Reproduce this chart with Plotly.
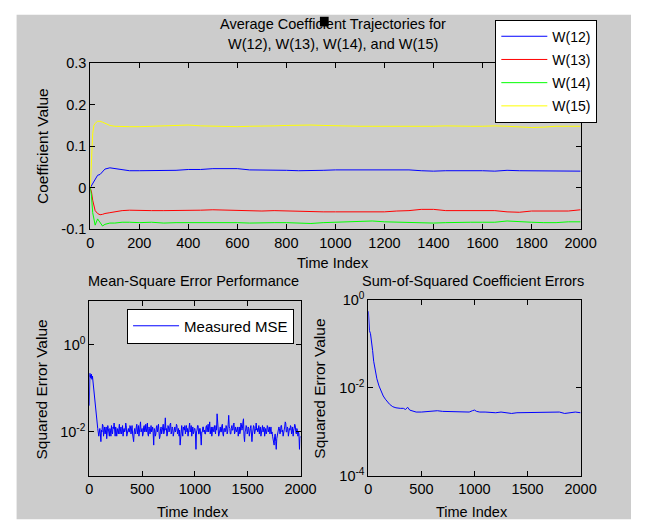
import plotly.graph_objects as go

# ---------------- data ----------------
t_coef = [0, 5, 10, 15, 20, 30, 40, 50, 60, 80, 100, 130, 160, 200, 250, 300, 350, 400, 450, 500,
          550, 600, 650, 700, 750, 800, 850, 900, 950, 1000, 1050, 1100, 1150, 1200, 1250, 1300,
          1350, 1400, 1450, 1500, 1550, 1600, 1650, 1700, 1750, 1800, 1850, 1900, 1950, 2000]

w12 = [0, 0.005, 0.01, 0.015, 0.02, 0.03, 0.032, 0.038, 0.045, 0.048, 0.046, 0.044, 0.041, 0.041,
       0.041, 0.041, 0.042, 0.044, 0.044, 0.046, 0.046, 0.046, 0.043, 0.043, 0.043, 0.042, 0.041,
       0.041, 0.042, 0.043, 0.043, 0.043, 0.042, 0.042, 0.043, 0.043, 0.041, 0.040, 0.041, 0.041,
       0.042, 0.041, 0.040, 0.042, 0.041, 0.041, 0.041, 0.040, 0.041, 0.040]

w13 = [0, -0.01, -0.03, -0.045, -0.055, -0.062, -0.065, -0.064, -0.062, -0.06, -0.058, -0.055,
       -0.054, -0.055, -0.055, -0.055, -0.055, -0.054, -0.054, -0.053, -0.054, -0.054, -0.056,
       -0.056, -0.055, -0.056, -0.056, -0.058, -0.058, -0.058, -0.058, -0.057, -0.058, -0.058,
       -0.056, -0.055, -0.052, -0.052, -0.055, -0.055, -0.055, -0.055, -0.055, -0.058, -0.059,
       -0.056, -0.056, -0.055, -0.056, -0.053]

w14 = [0, -0.02, -0.06, -0.08, -0.09, -0.075, -0.085, -0.092, -0.088, -0.085, -0.085, -0.083,
       -0.083, -0.084, -0.083, -0.085, -0.084, -0.084, -0.084, -0.083, -0.083, -0.084, -0.085,
       -0.084, -0.084, -0.084, -0.085, -0.086, -0.084, -0.083, -0.083, -0.082, -0.080, -0.082,
       -0.083, -0.083, -0.084, -0.085, -0.084, -0.083, -0.083, -0.083, -0.083, -0.080, -0.082,
       -0.083, -0.084, -0.084, -0.082, -0.082]

w15 = [0, 0.07, 0.13, 0.15, 0.155, 0.16, 0.16, 0.158, 0.155, 0.15, 0.148, 0.147, 0.147, 0.147,
       0.148, 0.149, 0.151, 0.151, 0.149, 0.148, 0.148, 0.147, 0.148, 0.148, 0.149, 0.150, 0.151,
       0.151, 0.150, 0.149, 0.149, 0.148, 0.148, 0.148, 0.148, 0.147, 0.148, 0.148, 0.149, 0.148,
       0.148, 0.148, 0.149, 0.148, 0.147, 0.145, 0.146, 0.148, 0.148, 0.148]

t_mse = [0, 2, 4, 6, 8, 10, 15, 20, 25, 30, 35, 40, 45, 50, 55, 60, 65, 70, 75, 80, 90] + list(range(100, 2001, 5))
mse = [0.04, 0.2, 0.15, 0.22, 0.18, 0.2, 0.17, 0.21, 0.16, 0.19, 0.14, 0.15, 0.1, 0.06, 0.04, 0.03,
       0.025, 0.02, 0.015, 0.012, 0.008,
       # 100-195
       0.012, 0.009, 0.006, 0.011, 0.010, 0.015, 0.014, 0.008, 0.011, 0.013,
       0.009, 0.012, 0.013, 0.007, 0.010, 0.014, 0.012, 0.009, 0.008, 0.012,
       # 200-295
       0.011, 0.008, 0.014, 0.010, 0.009, 0.013, 0.012, 0.016, 0.010, 0.008,
       0.013, 0.011, 0.008, 0.012, 0.011, 0.009, 0.012, 0.015, 0.009, 0.011,
       # 300-395
       0.013, 0.009, 0.010, 0.014, 0.008, 0.011, 0.012, 0.010, 0.011, 0.016,
       0.014, 0.008, 0.009, 0.012, 0.012, 0.010, 0.010, 0.014, 0.013, 0.009,
       # 400-495
       0.011, 0.014, 0.009, 0.007, 0.006, 0.010, 0.012, 0.009, 0.010, 0.013,
       0.015, 0.009, 0.011, 0.014, 0.008, 0.010, 0.013, 0.017, 0.010, 0.012,
       # 500-595
       0.012, 0.008, 0.009, 0.013, 0.014, 0.010, 0.011, 0.015, 0.010, 0.012,
       0.016, 0.009, 0.008, 0.013, 0.012, 0.009, 0.011, 0.014, 0.010, 0.012,
       # 600-695
       0.013, 0.009, 0.005, 0.012, 0.011, 0.008, 0.009, 0.013, 0.014, 0.010,
       0.012, 0.015, 0.010, 0.007, 0.008, 0.012, 0.013, 0.009, 0.011, 0.014,
       # 700-795
       0.015, 0.009, 0.010, 0.013, 0.021, 0.011, 0.012, 0.008, 0.009, 0.014,
       0.013, 0.010, 0.011, 0.015, 0.016, 0.009, 0.010, 0.013, 0.012, 0.008,
       # 800-895
       0.009, 0.012, 0.013, 0.010, 0.011, 0.015, 0.014, 0.009, 0.010, 0.012,
       0.008, 0.011, 0.005, 0.009, 0.012, 0.014, 0.010, 0.008, 0.013, 0.011,
       # 900-995
       0.011, 0.014, 0.009, 0.012, 0.014, 0.010, 0.012, 0.008, 0.010, 0.013,
       0.016, 0.010, 0.011, 0.014, 0.008, 0.010, 0.013, 0.009, 0.010, 0.012,
       # 1000-1095
       0.012, 0.009, 0.004, 0.010, 0.011, 0.014, 0.014, 0.009, 0.009, 0.012,
       0.012, 0.008, 0.005, 0.010, 0.010, 0.013, 0.013, 0.010, 0.011, 0.009,
       # 1100-1195
       0.009, 0.013, 0.014, 0.010, 0.012, 0.015, 0.010, 0.012, 0.017, 0.009,
       0.011, 0.013, 0.008, 0.010, 0.013, 0.011, 0.010, 0.014, 0.012, 0.009,
       # 1200-1295
       0.014, 0.011, 0.026, 0.013, 0.011, 0.008, 0.009, 0.013, 0.013, 0.010,
       0.010, 0.014, 0.015, 0.009, 0.008, 0.012, 0.012, 0.010, 0.011, 0.014,
       # 1300-1395
       0.013, 0.009, 0.010, 0.015, 0.024, 0.013, 0.012, 0.009, 0.009, 0.012,
       0.014, 0.011, 0.011, 0.015, 0.016, 0.009, 0.010, 0.013, 0.012, 0.010,
       # 1400-1495
       0.011, 0.013, 0.008, 0.010, 0.013, 0.009, 0.010, 0.016, 0.015, 0.011,
       0.012, 0.017, 0.020, 0.008, 0.006, 0.010, 0.011, 0.014, 0.013, 0.009,
       # 1500-1595
       0.010, 0.013, 0.012, 0.008, 0.009, 0.012, 0.014, 0.010, 0.006, 0.009,
       0.011, 0.014, 0.013, 0.009, 0.010, 0.012, 0.016, 0.011, 0.012, 0.010,
       # 1600-1695
       0.011, 0.014, 0.009, 0.012, 0.013, 0.008, 0.010, 0.012, 0.014, 0.010,
       0.011, 0.013, 0.008, 0.011, 0.012, 0.009, 0.010, 0.014, 0.013, 0.010,
       # 1700-1795
       0.011, 0.013, 0.009, 0.011, 0.013, 0.009, 0.010, 0.008, 0.007, 0.006,
       0.005, 0.008, 0.009, 0.006, 0.004, 0.007, 0.008, 0.011, 0.011, 0.013,
       # 1800-1895
       0.012, 0.009, 0.010, 0.014, 0.014, 0.010, 0.011, 0.008, 0.009, 0.012,
       0.013, 0.017, 0.016, 0.010, 0.010, 0.013, 0.012, 0.008, 0.009, 0.012,
       # 1900-1995
       0.011, 0.014, 0.013, 0.009, 0.010, 0.013, 0.008, 0.011, 0.012, 0.015,
       0.014, 0.010, 0.009, 0.012, 0.011, 0.008, 0.010, 0.009, 0.004, 0.007,
       # 2000
       0.008]

t_sse = [0, 3, 6, 10, 20, 30, 40, 50, 60, 70, 80, 100, 120, 140, 160, 180, 200, 230, 260, 300, 330,
         350, 370, 390, 420, 450, 500, 550, 600, 650, 700, 750, 800, 850, 900, 950, 980, 1000, 1020,
         1050, 1100, 1150, 1200, 1250, 1300, 1350, 1400, 1450, 1500, 1550, 1600, 1650, 1700, 1750,
         1800, 1850, 1900, 1950, 2000]
sse = [0.55, 0.3, 0.22, 0.2, 0.17, 0.12, 0.07, 0.04, 0.028, 0.02, 0.016, 0.011, 0.008, 0.0065,
       0.0055, 0.0048, 0.0042, 0.0037, 0.0035, 0.0034, 0.0034, 0.0032, 0.0036, 0.0031, 0.0029,
       0.0028, 0.0028, 0.0029, 0.0029, 0.0030, 0.0029, 0.0029, 0.0028, 0.0028, 0.0028, 0.0028,
       0.0030, 0.0031, 0.0029, 0.0028, 0.0028, 0.0027, 0.0027, 0.0028, 0.0027, 0.0026, 0.0027,
       0.0027, 0.0028, 0.0027, 0.0028, 0.0028, 0.0028, 0.0027, 0.0028, 0.0026, 0.0027, 0.0028,
       0.0027]

top_xticks = [0, 200, 400, 600, 800, 1000, 1200, 1400, 1600, 1800, 2000]
top_yticks = [-0.1, 0, 0.1, 0.2, 0.3]
top_yticktext = ["-0.1", "0", "0.1", "0.2", "0.3"]
bot_xticks = [0, 500, 1000, 1500, 2000]
mse_yticks = [1, 0.01]
mse_yticktext = ["10<sup>0</sup>", "10<sup>-2</sup>"]
sse_yticks = [1, 0.01, 0.0001]
sse_yticktext = ["10<sup>0</sup>", "10<sup>-2</sup>", "10<sup>-4</sup>"]

if len(t_mse) != len(mse):
    raise SystemExit("mse length mismatch: %d vs %d" % (len(t_mse), len(mse)))

# ---------------- layout helpers ----------------
W, H = 647, 531
FONT = "Liberation Sans, Arial, sans-serif"
FS = 14.5


def px(x):
    return x / W


def py(y):
    return 1 - y / H


fig = go.Figure()
names = ["W(12)", "W(13)", "W(14)", "W(15)"]
colors = ["#0000FF", "#FF0000", "#00FF00", "#FFFF00"]
for name, vals, col in zip(names, [w12, w13, w14, w15], colors):
    fig.add_trace(go.Scatter(x=t_coef, y=vals, mode="lines", name=name, legendgroup=name,
                             line=dict(color=col, width=1), xaxis="x", yaxis="y", legend="legend"))

fig.add_trace(go.Scatter(x=t_mse, y=mse, mode="lines", name="Measured MSE",
                         line=dict(color="#0000FF", width=1), xaxis="x2", yaxis="y2", legend="legend2"))
fig.add_trace(go.Scatter(x=t_sse, y=sse, mode="lines", name="SSE", showlegend=False,
                         line=dict(color="#0000FF", width=1), xaxis="x3", yaxis="y3"))

common = dict(showline=True, linecolor="black", linewidth=1, mirror="ticks", ticks="inside",
              ticklen=5, tickcolor="black", showgrid=False, zeroline=False,
              tickfont=dict(family=FONT, size=FS, color="black"))

fig.update_layout(
    width=W, height=H, margin=dict(l=0, r=0, t=0, b=0),
    paper_bgcolor="white", plot_bgcolor="white",
    font=dict(family=FONT, size=FS, color="black"),
    xaxis=dict(domain=[px(89), px(595)], range=[0, 2000], tickvals=top_xticks, anchor="y", **common),
    yaxis=dict(domain=[py(227), py(55)], range=[-0.1, 0.3], tickvals=top_yticks,
               ticktext=top_yticktext, anchor="x", **common),
    xaxis2=dict(domain=[px(88), px(306)], range=[0, 2000], tickvals=bot_xticks, anchor="y2", **common),
    yaxis2=dict(domain=[py(482), py(301)], type="log", range=[-3, 1], tickvals=mse_yticks,
                ticktext=mse_yticktext, anchor="x2", **common),
    xaxis3=dict(domain=[px(376), px(595)], range=[0, 2000], tickvals=bot_xticks, anchor="y3", **common),
    yaxis3=dict(domain=[py(482), py(300)], type="log", range=[-4, 0], tickvals=sse_yticks,
                ticktext=sse_yticktext, anchor="x3", **common),
    legend=dict(x=px(507), y=py(10), xanchor="left", yanchor="top", bgcolor="white",
                bordercolor="black", borderwidth=1, font=dict(family=FONT, size=14, color="black"),
                itemwidth=46, traceorder="grouped", tracegroupgap=2),
    legend2=dict(x=px(127), y=py(309), xanchor="left", yanchor="top", bgcolor="white",
                 bordercolor="black", borderwidth=1, font=dict(family=FONT, size=15, color="black"),
                 itemwidth=46),
    showlegend=True,
)

# background panel (figure colour) and the small black mark in the title
fig.add_shape(type="rect", xref="paper", yref="paper", x0=px(13), x1=1, y0=py(527), y1=py(5),
              fillcolor="#CCCCCC", line=dict(width=0), layer="below")
fig.add_shape(type="rect", xref="paper", yref="paper", x0=px(326), x1=px(335), y0=py(17), y1=py(7),
              fillcolor="black", line=dict(width=0), layer="above")


def ann(text, x, y, angle=0, size=FS):
    fig.add_annotation(text=text, x=px(x), y=py(y), xref="paper", yref="paper", showarrow=False,
                       xanchor="center", yanchor="middle", textangle=angle,
                       font=dict(family=FONT, size=size, color="black"))


ann("Average Coefficient Trajectories for", 340, 15)
ann("W(12), W(13), W(14), and W(15)", 340, 35)
ann("Time Index", 340, 262)
ann("Coefficient Value", 39, 141, -90, 15.5)
ann("Mean-Square Error Performance", 196, 281)
ann("Time Index", 195, 520)
ann("Squared Error Value", 39, 393, -90, 15.5)
ann("Sum-of-Squared Coefficient Errors", 484, 281)
ann("Time Index", 483, 520)
ann("Squared Error Value", 326, 392, -90, 15.5)

fig.write_html("out.html")
